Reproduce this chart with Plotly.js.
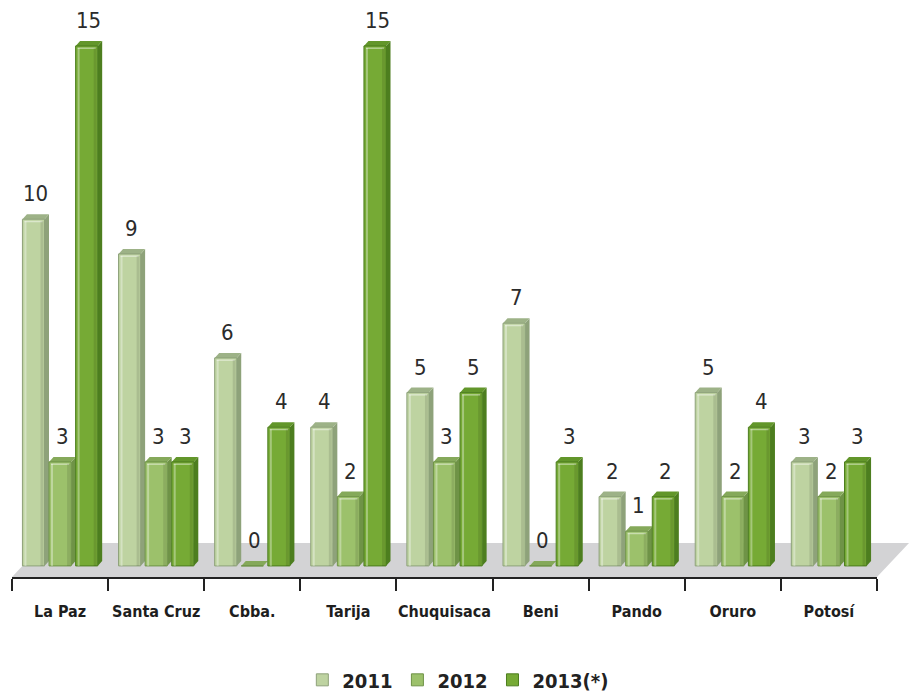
<!DOCTYPE html>
<html>
<head>
<meta charset="utf-8">
<script src="https://cdn.plot.ly/plotly-3.0.1.min.js"></script>
<style>html,body{margin:0;padding:0;background:#fff;}#chart{width:909px;height:694px;}</style>
</head>
<body>
<div id="chart"></div>
<script>
const categories = ['La Paz','Santa Cruz','Cbba.','Tarija','Chuquisaca','Beni','Pando','Oruro','Potosí'];
const seriesNames = ['2011','2012','2013(*)'];
const v2011 = [10, 9, 6, 4, 5, 7, 2, 5, 3];
const v2012 = [3, 3, 0, 2, 3, 0, 1, 2, 2];
const v2013 = [15, 3, 4, 15, 5, 3, 2, 4, 3];

const series = [v2011, v2012, v2013];
const frontCol = ['#bed3a1', '#9cc16b', '#76aa35'];
const sideCol  = ['#8ea27a', '#6f9347', '#4d7e1f'];
const capCol   = ['#9db287', '#85a95a', '#62962a'];

const W = 909, H = 694;
const M = {l: 12, r: 32, t: 30, b: 117, autoexpand: false};
const plotW = W - M.l - M.r, plotH = H - M.t - M.b;
const yRange = [-0.32, 15.46];
const bargap = 0.17, bargroupgap = 0.17;
const pxX = plotW / categories.length;
const pxY = plotH / (yRange[1] - yRange[0]);
const dx = 4.5 / pxX, dy = 5 / pxY;
const slot = (1 - bargap) / 3;
const bw = slot * (1 - bargroupgap);
const font = '"DejaVu Sans Condensed", "Liberation Sans", sans-serif';

const traces = series.map((vals, j) => ({
  type: 'bar',
  name: seriesNames[j],
  x: categories,
  y: vals,
  marker: {color: frontCol[j], line: {width: 1, color: sideCol[j]}},
  hoverinfo: 'skip'
}));

const shapes = [];
// floor
shapes.push({
  type: 'path', xref: 'paper', yref: 'paper', layer: 'below',
  path: 'M 0 0 L 1 0 L ' + (1 + 32/plotW) + ' ' + (34/plotH) + ' L ' + (32/plotW) + ' ' + (34/plotH) + ' Z',
  fillcolor: '#d3d3d5', line: {width: 0}
});
const annotations = [];
series.forEach((vals, j) => {
  vals.forEach((v, i) => {
    const c = i + (j - 1) * slot;
    const xL = c - bw / 2, xR = c + bw / 2;
    shapes.push({type: 'path', xref: 'x', yref: 'y', layer: 'below',
      path: `M ${xR} 0 L ${xR + dx} ${dy} L ${xR + dx} ${v + dy} L ${xR} ${v} Z`,
      fillcolor: sideCol[j], line: {width: 0}});
    shapes.push({type: 'path', xref: 'x', yref: 'y', layer: 'below',
      path: `M ${xL} ${v} L ${xR} ${v} L ${xR + dx} ${v + dy} L ${xL + dx} ${v + dy} Z`,
      fillcolor: capCol[j], line: {width: 0}});
    if (v > 0) {
      shapes.push({type: 'rect', xref: 'x', yref: 'y', layer: 'above',
        x0: xL + 2 / pxX, x1: xL + 4 / pxX, y0: 0, y1: v - 2 / pxY,
        fillcolor: 'rgba(255,255,255,0.35)', line: {width: 0}});
      shapes.push({type: 'rect', xref: 'x', yref: 'y', layer: 'above',
        x0: xL + 2 / pxX, x1: xR - 2 / pxX, y0: v - 3 / pxY, y1: v - 1.5 / pxY,
        fillcolor: 'rgba(255,255,255,0.45)', line: {width: 0}});
      shapes.push({type: 'rect', xref: 'x', yref: 'y', layer: 'above',
        x0: xR - 4 / pxX, x1: xR - 1 / pxX, y0: 0, y1: v - 2 / pxY,
        fillcolor: 'rgba(0,0,0,0.10)', line: {width: 0}});
    }
    annotations.push({
      x: c + dx / 2, y: v, xref: 'x', yref: 'y',
      text: String(v), showarrow: false, yanchor: 'bottom', yshift: 11,
      font: {family: font, size: 22, color: '#2b2b2b'}
    });
  });
});

const layout = {
  width: W, height: H,
  margin: M,
  paper_bgcolor: '#ffffff', plot_bgcolor: 'rgba(0,0,0,0)',
  barmode: 'group', bargap: bargap, bargroupgap: bargroupgap,
  showlegend: true,
  legend: {
    orientation: 'h', x: 0.516, xanchor: 'center', y: -0.188, yanchor: 'middle',
    font: {family: font, size: 20, color: '#222', weight: 'bold'},
    traceorder: 'normal', itemwidth: 30
  },
  xaxis: {
    type: 'category', tickson: 'boundaries', ticks: 'outside', ticklen: 12,
    tickwidth: 2, tickcolor: '#222', showline: true, linecolor: '#222', linewidth: 2,
    showgrid: false, zeroline: false, ticklabelstandoff: 19, tickangle: 0, automargin: false,
    tickfont: {family: font, size: 16, color: '#1e1e1e', weight: 'bold'},
    range: [-0.5, categories.length - 0.5]
  },
  yaxis: {
    range: yRange, showgrid: false, zeroline: false, showline: false,
    showticklabels: false, ticks: '', automargin: false
  },
  shapes: shapes,
  annotations: annotations
};

Plotly.newPlot('chart', traces, layout, {staticPlot: true, displayModeBar: false});
</script>
</body>
</html>
